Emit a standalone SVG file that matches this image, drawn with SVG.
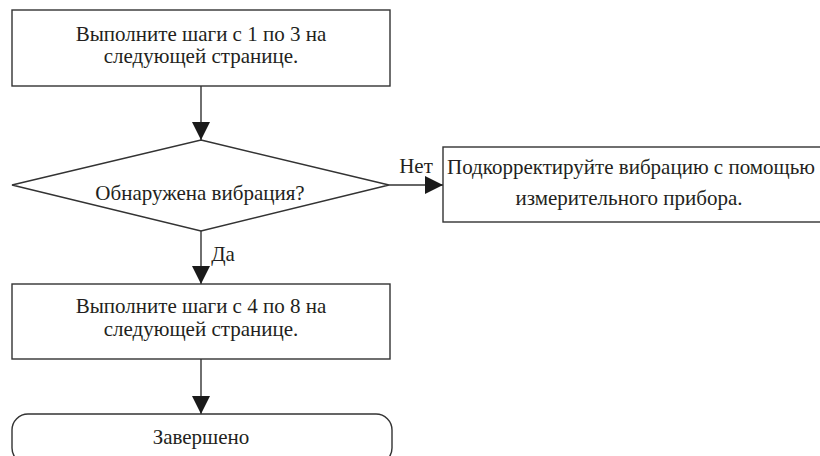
<svg xmlns="http://www.w3.org/2000/svg" width="820" height="456" viewBox="0 0 820 456">
<style>
.n{fill:#fff;stroke:#333;stroke-width:1.4}
.t{font-family:"Liberation Serif","Times New Roman",serif;font-size:21px;fill:#231f20;text-anchor:middle}
.c{stroke:#333;stroke-width:1.4;fill:none}
</style>
<defs>
<marker id="ah" markerUnits="userSpaceOnUse" markerWidth="18" markerHeight="18" refX="18" refY="9" orient="auto">
<path d="M0,0 L18,9 L0,18 Z" fill="#1a1a1a"/>
</marker>
</defs>
<rect width="820" height="456" fill="#fff"/>
<g id="connectors">
<line class="c" x1="201" y1="86" x2="201" y2="140" marker-end="url(#ah)"/>
<line class="c" x1="389" y1="185" x2="443" y2="185" marker-end="url(#ah)"/>
<line class="c" x1="201" y1="231" x2="201" y2="284" marker-end="url(#ah)"/>
<line class="c" x1="201" y1="359" x2="201" y2="414" marker-end="url(#ah)"/>
<text class="t" x="416" y="173">Нет</text>
<text class="t" x="223" y="261">Да</text>
</g>
<g id="step1">
<rect class="n" x="12" y="10" width="378" height="76"/>
<text class="t" x="201" y="41">Выполните шаги с 1 по 3 на</text>
<text class="t" x="201" y="63">следующей странице.</text>
</g>
<g id="decision">
<polygon class="n" points="201,140 389,185 201,231 12,185"/>
<text class="t" x="200" y="200">Обнаружена вибрация?</text>
</g>
<g id="correct">
<rect class="n" x="443" y="147" width="390" height="75"/>
<text class="t" x="631" y="174">Подкорректируйте вибрацию с помощью</text>
<text class="t" x="629" y="205">измерительного прибора.</text>
</g>
<g id="step2">
<rect class="n" x="12" y="284" width="378" height="75"/>
<text class="t" x="201" y="313">Выполните шаги с 4 по 8 на</text>
<text class="t" x="201" y="336">следующей странице.</text>
</g>
<g id="done">
<rect class="n" x="12" y="414" width="380" height="50" rx="16"/>
<text class="t" x="201" y="444">Завершено</text>
</g>
</svg>
